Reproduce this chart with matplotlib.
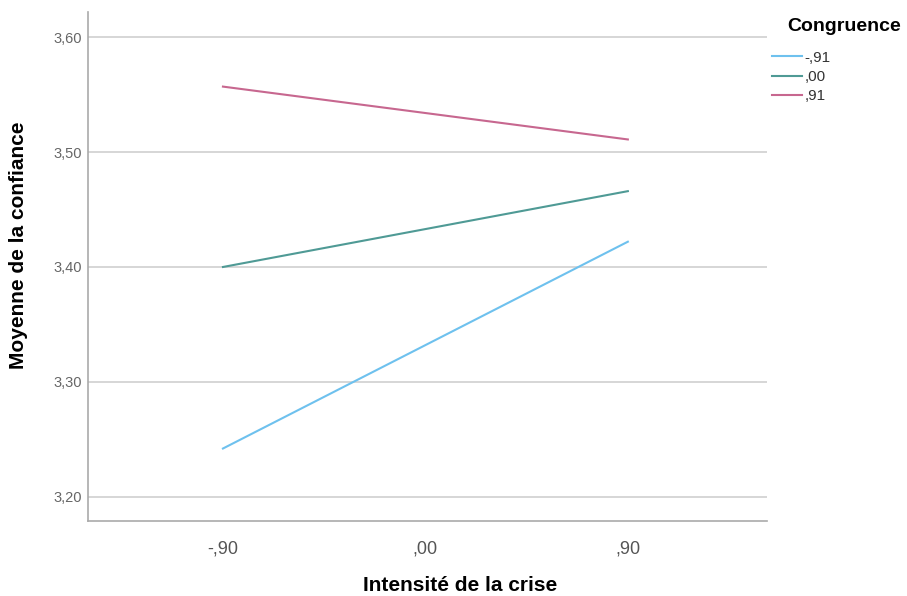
#!/usr/bin/env python3

import matplotlib
matplotlib.use("Agg")
import matplotlib.pyplot as plt

# Data
x_vals = [-0.90, 0.90]
x_ticks = [-0.90, 0.00, 0.90]
x_labels = ["-,90", ",00", ",90"]
y_ticks = [3.20, 3.30, 3.40, 3.50, 3.60]
y_labels = ["3,20", "3,30", "3,40", "3,50", "3,60"]

series_names = ["-,91", ",00", ",91"]
low_cong = [3.242, 3.422]
mid_cong = [3.400, 3.466]
high_cong = [3.557, 3.511]
colors = ["#6EC1EE", "#4F9A95", "#C7678F"]

plt.rcParams["font.family"] = ["Liberation Sans", "DejaVu Sans"]

fig = plt.figure(figsize=(9.07, 5.96), dpi=100)
ax = fig.add_axes([0.097, 0.126, 0.749, 0.854])

for vals, name, col in zip([low_cong, mid_cong, high_cong], series_names, colors):
    ax.plot(x_vals, vals, color=col, lw=1.5, label=name)

ax.set_xlim(-1.5, 1.52)
ax.set_ylim(3.179, 3.622)
ax.set_xticks(x_ticks)
ax.set_xticklabels(x_labels)
ax.set_yticks(y_ticks)
ax.set_yticklabels(y_labels)
ax.tick_params(axis="x", length=0, labelsize=13, colors="#555555", pad=14)
ax.tick_params(axis="y", length=0, labelsize=10.5, colors="#666666", pad=4)

ax.yaxis.grid(True, color="#D0D0D0", lw=1.2)
ax.set_axisbelow(True)
for s in ["top", "right"]:
    ax.spines[s].set_visible(False)
for s in ["left", "bottom"]:
    ax.spines[s].set_color("#AAAAAA")
    ax.spines[s].set_linewidth(1.2)

ax.set_xlabel("Intensité de la crise", fontsize=15, fontweight="bold")
ax.xaxis.set_label_coords(0.548, -0.108)
ax.set_ylabel("Moyenne de la confiance", fontsize=15, fontweight="bold")
ax.yaxis.set_label_coords(-0.088, 0.542)

# legend title placed separately (offset from the handles like the original)
fig.text(0.868, 0.955, "Congruence", fontsize=14, fontweight="bold",
         ha="left", va="center")
leg = ax.legend(loc="upper left", bbox_to_anchor=(0.851, 0.915),
                bbox_transform=fig.transFigure, frameon=False,
                fontsize=11, borderpad=0, borderaxespad=0,
                handlelength=2.0, handletextpad=0.15, labelspacing=0.35)
for t in leg.get_texts():
    t.set_color("#333333")

fig.savefig("out.png", dpi=100)
